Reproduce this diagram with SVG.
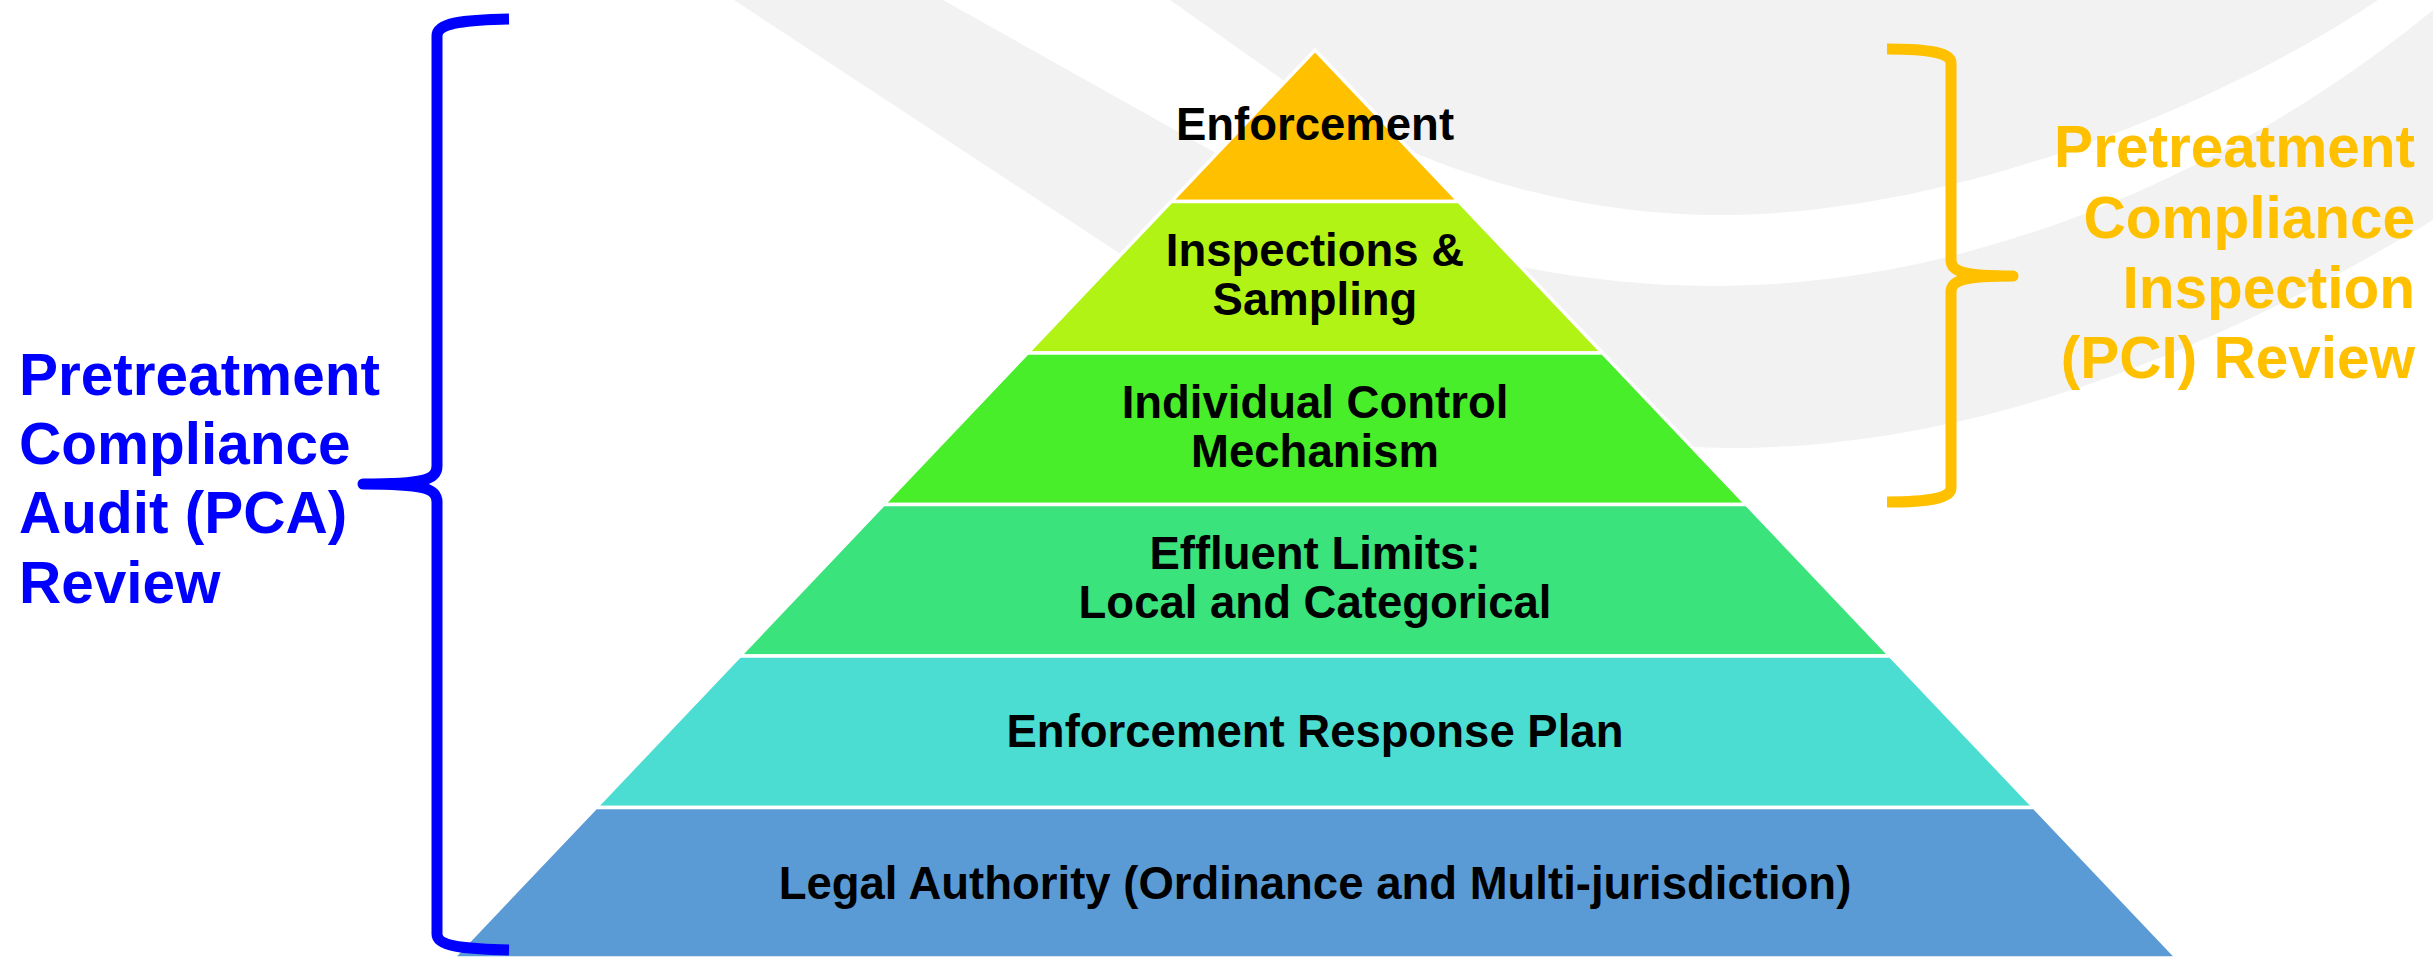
<svg xmlns="http://www.w3.org/2000/svg" width="2433" height="958" viewBox="0 0 2433 958">
  <style>
    .layer { stroke: #FFFFFF; stroke-width: 3.5; stroke-linejoin: miter; }
    .lbl { font-family: "Liberation Sans", Arial, sans-serif; font-weight: bold; font-size: 45.5px; fill: #000000; text-anchor: middle; }
    .side { font-family: "Liberation Sans", Arial, sans-serif; font-weight: bold; font-size: 58.5px; }
    .brace { fill: none; stroke-width: 11; stroke-linecap: butt; stroke-linejoin: round; }
  </style>
  <rect x="0" y="0" width="2433" height="958" fill="#FFFFFF"/>
  <g id="background" fill="#F2F2F2">
    <path d="M734,0 L1119,253 C1300,372 1500,448 1732,448 C2000,448 2250,330 2433,220 L2433,10 C2250,160 1990,286 1713,286 C1520,286 1350,228 1216,153 L943,0 Z"/>
    <path d="M1170,0 L1283,80 C1380,150 1540,215 1720,215 C1960,215 2230,100 2378,0 Z"/>
  </g>
  <g id="node-enforcement">
    <polygon class="layer" fill="#FFC000" points="1315,50 1458.8,201.5 1171.2,201.5"/>
    <text class="lbl" x="1315" y="140">Enforcement</text>
  </g>
  <g id="node-inspections">
    <polygon class="layer" fill="#B2F316" points="1171.2,201.5 1458.8,201.5 1602.6,353 1027.4,353"/>
    <text class="lbl" x="1315" y="266">Inspections &amp;</text>
    <text class="lbl" x="1315" y="315">Sampling</text>
  </g>
  <g id="node-icm">
    <polygon class="layer" fill="#48EE29" points="1027.4,353 1602.6,353 1746.5,504.5 883.5,504.5"/>
    <text class="lbl" x="1315" y="418">Individual Control</text>
    <text class="lbl" x="1315" y="467">Mechanism</text>
  </g>
  <g id="node-effluent">
    <polygon class="layer" fill="#3BE37C" points="883.5,504.5 1746.5,504.5 1890.3,656 739.7,656"/>
    <text class="lbl" x="1315" y="569">Effluent Limits:</text>
    <text class="lbl" x="1315" y="618">Local and Categorical</text>
  </g>
  <g id="node-erp">
    <polygon class="layer" fill="#4BDDD2" points="739.7,656 1890.3,656 2034.1,807.5 595.9,807.5"/>
    <text class="lbl" x="1315" y="747">Enforcement Response Plan</text>
  </g>
  <g id="node-legal">
    <polygon class="layer" fill="#5B9BD5" points="595.9,807.5 2034.1,807.5 2177,958 453,958"/>
    <text class="lbl" x="1315" y="899">Legal Authority (Ordinance and Multi-jurisdiction)</text>
  </g>
  <g id="connectors">
    <path class="brace" stroke="#0000FF" d="M509,19 C462,20 437,23 437,36 L437,466 C437,480 423,484 363,484 C423,484 437,488 437,502 L437,934 C437,946 462,949 509,950"/>
    <path class="brace" stroke="#FFC000" d="M1887,49 C1930,49 1951,53 1951,63 L1951,260 C1951,272 1965,276 2013,276 C1965,276 1951,280 1951,292 L1951,488 C1951,498 1930,502 1887,502"/>
  </g>
  <g id="node-pca-label">
    <text class="side" fill="#0000FF" x="19" y="395">Pretreatment</text>
    <text class="side" fill="#0000FF" x="19" y="464">Compliance</text>
    <text class="side" fill="#0000FF" x="19" y="533">Audit (PCA)</text>
    <text class="side" fill="#0000FF" x="19" y="603">Review</text>
  </g>
  <g id="node-pci-label">
    <text class="side" fill="#FFC000" x="2415" y="167" text-anchor="end">Pretreatment</text>
    <text class="side" fill="#FFC000" x="2415" y="238" text-anchor="end">Compliance</text>
    <text class="side" fill="#FFC000" x="2415" y="308" text-anchor="end">Inspection</text>
    <text class="side" fill="#FFC000" x="2415" y="378" text-anchor="end">(PCI) Review</text>
  </g>
</svg>
